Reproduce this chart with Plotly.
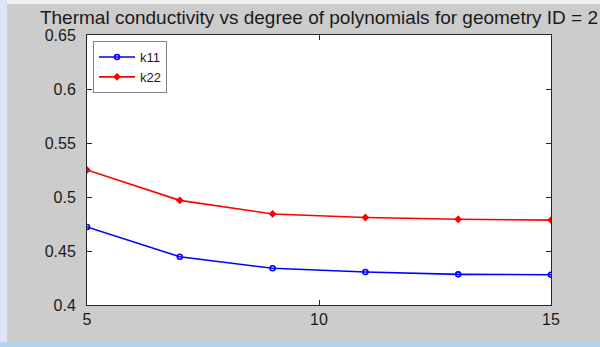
import plotly.graph_objects as go

# Polynomial degree vs. thermal conductivity components
degree = [5, 7, 9, 11, 13, 15]
k11 = [0.4722, 0.4447, 0.4340, 0.4305, 0.4284, 0.4280]
k22 = [0.5250, 0.4969, 0.4843, 0.4810, 0.4794, 0.4786]

x_ticks = [5, 10, 15]
y_ticks = [0.4, 0.45, 0.5, 0.55, 0.6, 0.65]
y_labels = ["0.4", "0.45", "0.5", "0.55", "0.6", "0.65"]

W, H = 600, 347
L, R, T, B = 87, 49, 35, 42
pw, ph = W - L - R, H - T - B

fig = go.Figure()
fig.add_trace(go.Scatter(
    x=degree, y=k11, name="k11", mode="lines+markers",
    line=dict(color="#0000ff", width=1.6),
    marker=dict(symbol="circle-open", size=5, color="#0000ff", line=dict(width=1.6)),
))
fig.add_trace(go.Scatter(
    x=degree, y=k22, name="k22", mode="lines+markers",
    line=dict(color="#ff0000", width=1.6),
    marker=dict(symbol="diamond", size=6, color="#ff0000"),
))

def px_x(p):
    return (p - L) / pw

def px_y(p):
    return 1 - (p - T) / ph

# window frame strips around the figure
fig.add_shape(type="rect", xref="paper", yref="paper", layer="below",
              x0=px_x(0), x1=px_x(7), y0=px_y(347), y1=px_y(0),
              fillcolor="#dbe4f2", line_width=0)
fig.add_shape(type="rect", xref="paper", yref="paper", layer="below",
              x0=px_x(0), x1=px_x(600), y0=px_y(347), y1=px_y(342),
              fillcolor="#b9d1ea", line_width=0)
fig.add_shape(type="rect", xref="paper", yref="paper", layer="below",
              x0=px_x(7), x1=px_x(600), y0=px_y(4), y1=px_y(0),
              fillcolor="#f0f0f0", line_width=0)

axis_common = dict(
    showgrid=False, zeroline=False, showline=True, linecolor="#262626",
    linewidth=1, mirror="ticks", ticks="inside", ticklen=5,
    tickcolor="#262626", tickfont=dict(family="Liberation Sans, Arial", size=16, color="#1a1a1a"),
)

fig.update_xaxes(range=[5, 15], tickvals=x_ticks, ticktext=[str(v) for v in x_ticks], **axis_common)
fig.update_yaxes(range=[0.4, 0.65], tickvals=y_ticks, ticktext=y_labels,
                 ticklabelstandoff=7, **axis_common)

fig.update_layout(
    width=W, height=H,
    margin=dict(l=L, r=R, t=T, b=B),
    paper_bgcolor="#cccccc",
    plot_bgcolor="#ffffff",
    title=dict(
        text="Thermal conductivity vs degree of polynomials for geometry ID = 2",
        x=0.5, xref="paper", xanchor="center",
        y=1 - 17 / H, yref="container", yanchor="middle",
        font=dict(family="Liberation Sans, Arial", size=19, color="#1a1a1a"),
    ),
    legend=dict(
        x=px_x(93), y=px_y(41), xanchor="left", yanchor="top",
        bgcolor="#ffffff", bordercolor="#808080", borderwidth=1,
        font=dict(family="Liberation Sans, Arial", size=13, color="#1a1a1a"),
        tracegroupgap=0, itemwidth=36,
    ),
    showlegend=True,
)

fig.write_html("out.html")
